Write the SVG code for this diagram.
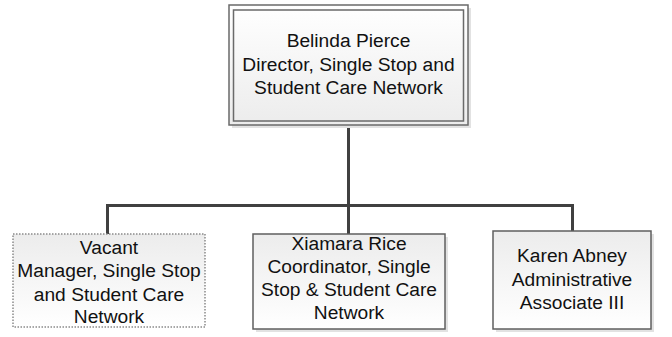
<svg xmlns="http://www.w3.org/2000/svg" width="672" height="337" viewBox="0 0 672 337">
<defs>
<linearGradient id="gTop" x1="0" y1="0" x2="0" y2="1">
<stop offset="0" stop-color="#ffffff"/>
<stop offset="1" stop-color="#ececec"/>
</linearGradient>
<linearGradient id="gChild" x1="0" y1="0" x2="0" y2="1">
<stop offset="0" stop-color="#ececec"/>
<stop offset="1" stop-color="#ffffff"/>
</linearGradient>
</defs>
<style>
.shadow{fill:#e2e2e2;stroke:none}
.box{fill:url(#gChild);stroke:#5f5f5f;stroke-width:1.5}
.dotted{fill:url(#gChild);stroke:#8a8a8a;stroke-width:1.5;stroke-dasharray:1.5 1.5}
.topbox{fill:url(#gTop);stroke:#6a6a6a;stroke-width:1.5}
.inner{fill:none;stroke:#6a6a6a;stroke-width:1.5}
.conn{fill:none;stroke:#404040;stroke-width:3}
text{font-family:"Liberation Sans",Arial,sans-serif;font-size:19.2px;fill:#111111;text-anchor:middle}
</style>
<g id="connectors">
<path class="conn" d="M348.5,125 V205.5"/>
<path class="conn" d="M107.5,234 V205.5 H572.5 V231"/>
<path class="conn" d="M348.5,205.5 V234"/>
</g>
<g id="node-belinda">
<rect class="shadow" x="232" y="8" width="239" height="120"/>
<rect class="topbox" x="229" y="5" width="239" height="120"/>
<rect class="inner" x="233.5" y="10" width="230" height="111"/>
<text x="348.5" y="46.5">Belinda Pierce</text>
<text x="348.5" y="70.5">Director, Single Stop and</text>
<text x="348.5" y="94">Student Care Network</text>
</g>
<g id="node-vacant">
<rect class="dotted" x="13" y="234" width="192" height="93"/>
<text x="109" y="253.5">Vacant</text>
<text x="109" y="277">Manager, Single Stop</text>
<text x="109" y="300.5">and Student Care</text>
<text x="109" y="323">Network</text>
</g>
<g id="node-xiamara">
<rect class="shadow" x="256" y="237" width="192" height="95"/>
<rect class="box" x="253" y="234" width="192" height="95"/>
<text x="349" y="249.5">Xiamara Rice</text>
<text x="349" y="273">Coordinator, Single</text>
<text x="349" y="296">Stop &amp; Student Care</text>
<text x="349" y="319">Network</text>
</g>
<g id="node-karen">
<rect class="shadow" x="496" y="234" width="158" height="98"/>
<rect class="box" x="493" y="231" width="158" height="98"/>
<text x="572" y="262">Karen Abney</text>
<text x="572" y="285.5">Administrative</text>
<text x="572" y="309">Associate III</text>
</g>
</svg>
